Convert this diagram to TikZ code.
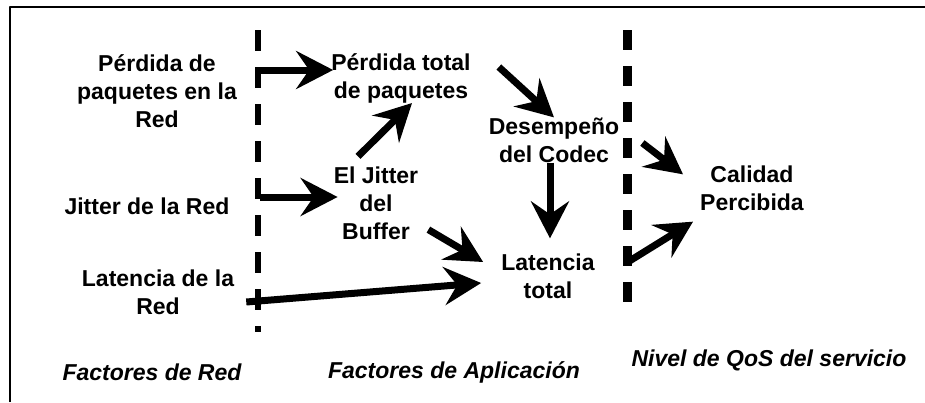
\documentclass[tikz,border=0pt]{standalone}
\usepackage{fontspec}
\setmainfont{Liberation Sans}
\usetikzlibrary{arrows.meta}

\tikzset{
  etiqueta/.style={font=\fontsize{23}{28}\selectfont\bfseries, align=center, inner sep=0pt},
  nivel/.style={font=\fontsize{23}{28}\selectfont\bfseries\itshape, inner sep=0pt},
  flecha/.style={line width=7pt, -{Stealth[length=37pt,width=38pt,inset=13pt]}},
  divisor/.style={line width=5.5pt, dash pattern=on 21pt off 16pt},
  divisorqos/.style={line width=9pt, dash pattern=on 20pt off 16pt},
}

\begin{document}
\begin{tikzpicture}[x=1pt, y=-1pt, line join=round]
\useasboundingbox (0,0) rectangle (925,402);
% marco
\draw[line width=2.5pt] (10,402) -- (10,7) -- (925,7);
% divisiones
\coordinate (d1) at (258,30);
\coordinate (d2) at (627,30);
\draw[divisor] (d1) -- (258,332);
\draw[divisorqos] (d2) -- (627,305);

% factores de red
\node[etiqueta] (pred) at (157,91) {Pérdida de\\paquetes en la\\Red};
\node[etiqueta] (jred) at (147,206) {Jitter de la Red};
\node[etiqueta] (lred) at (158,292) {Latencia de la\\Red};
% factores de aplicacion
\node[etiqueta] (ptot) at (401,78) {Pérdida total\\de paquetes};
\node[etiqueta] (buf) at (376,203) {El Jitter\\del\\Buffer};
\node[etiqueta] (des) at (554,140) {Desempeño\\del Codec};
\node[etiqueta] (lat) at (548,276) {Latencia\\total};
% nivel de servicio
\node[etiqueta] (cal) at (752,188) {Calidad\\Percibida};

\node[nivel] (fred) at (152,372) {Factores de Red};
\node[nivel] (fapl) at (454,372) {Factores de Aplicación};
\node[nivel] (nqos) at (769,360) {Nivel de QoS del servicio};

% flechas
\draw[flecha] ([shift={(2pt,8pt)}]ptot.west -| d1) -- ([shift={(2pt,8pt)}]ptot.west);
\draw[flecha] ([shift={(2pt,6pt)}]buf.west -| d1) -- ([shift={(4pt,6pt)}]buf.west);
\draw[flecha] ([shift={(12pt,-10pt)}]lred.east) -- ([shift={(-20pt,-7pt)}]lat.west);
\draw[flecha] ([shift={(10pt,10pt)}]buf.south east) -- ([shift={(-18pt,14pt)}]lat.west);
\draw[flecha] ([shift={(-18pt,10pt)}]buf.north) -- ([xshift=11pt]ptot.south);
\draw[flecha] ([shift={(28pt,11pt)}]ptot.east) -- (des.north);
\draw[flecha] ([xshift=-4pt]des.south) -- ([shift={(-4pt,15pt)}]des.south |- lat.north);
\draw[flecha] ([shift={(23pt,-3pt)}]des.east) -- ([shift={(-17pt,-9pt)}]cal.north west);
\draw[flecha] ([shift={(33pt,14pt)}]lat.east) -- ([shift={(-7pt,-11pt)}]cal.south west);
\end{tikzpicture}
\end{document}
